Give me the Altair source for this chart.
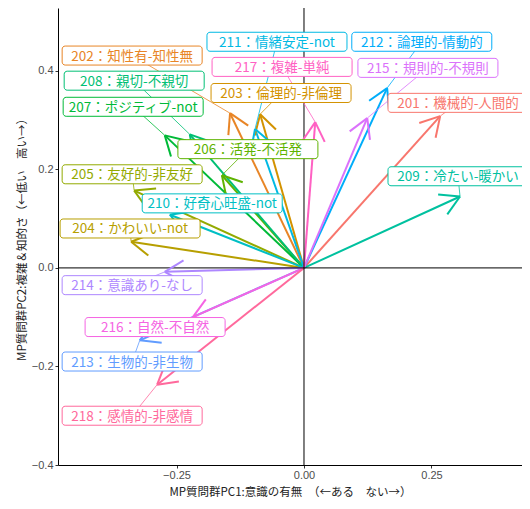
import altair as alt
import numpy as np
import pandas as pd

ids = ["201", "202", "203", "204", "205", "206", "207", "208", "209",
       "210", "211", "212", "213", "214", "215", "216", "217", "218"]
names = ["機械的-人間的", "知性有-知性無", "倫理的-非倫理", "かわいい-not", "友好的-非友好",
         "活発-不活発", "ポジティブ-not", "親切-不親切", "冷たい-暖かい", "好奇心旺盛-not",
         "情緒安定-not", "論理的-情動的", "生物的-非生物", "意識あり-なし", "規則的-不規則",
         "自然-不自然", "複雑-単純", "感情的-非感情"]
pc1 = [0.267, -0.145, -0.086, -0.339, -0.333, -0.161, -0.273, -0.224, 0.306,
       -0.263, -0.096, 0.163, -0.322, -0.273, 0.124, -0.218, 0.022, -0.288]
pc2 = [0.308, 0.314, 0.312, 0.053, 0.157, 0.188, 0.269, 0.271, 0.145,
       0.108, 0.282, 0.365, -0.147, -0.008, 0.304, -0.100, 0.296, -0.237]
# label (repelled) positions
lab_x = [0.302, -0.337, -0.045, -0.341, -0.337, -0.110, -0.335, -0.333, 0.302,
         -0.180, -0.053, 0.231, -0.337, -0.337, 0.243, -0.292, -0.043, -0.337]
lab_y = [0.335, 0.431, 0.355, 0.080, 0.190, 0.241, 0.327, 0.380, 0.186,
         0.131, 0.459, 0.459, -0.190, -0.035, 0.406, -0.120, 0.408, -0.300]
colors = ["#F8766D", "#E88526", "#D39200", "#B79F00", "#93AA00", "#5EB300",
          "#00BA38", "#00BF74", "#00C19F", "#00BFC4", "#00B9E3", "#00ADFA",
          "#619CFF", "#AE87FF", "#DB72FB", "#F564E3", "#FF61C3", "#FF699C"]

x_ticks = [-0.25, 0.0, 0.25]
y_ticks = [-0.4, -0.2, 0.0, 0.2, 0.4]
x_dom = [-0.4824, 0.4275]
y_dom = [-0.4, 0.5275]

W, H = 464, 457
px_x = W / (x_dom[1] - x_dom[0])
px_y = H / (y_dom[1] - y_dom[0])

labels = [f"{i}：{n}" for i, n in zip(ids, names)]
df = pd.DataFrame({"id": ids, "label": labels, "x": pc1, "y": pc2,
                   "lx": lab_x, "ly": lab_y})

# arrowhead barbs (open arrow, 30 degrees), computed in pixel space
Lpx = 22
rows = []
for _, r in df.iterrows():
    a0 = np.arctan2(r["y"] * px_y, r["x"] * px_x)
    for s in (-1, 1):
        a = a0 + np.pi + s * np.pi / 6
        rows.append({"id": r["id"], "x": r["x"], "y": r["y"],
                     "bx": r["x"] + Lpx * np.cos(a) / px_x,
                     "by": r["y"] + Lpx * np.sin(a) / px_y})
barbs = pd.DataFrame(rows)

bw, bh = 140 / px_x, 19 / px_y
df["x1"] = df["lx"] - bw / 2
df["x2"] = df["lx"] + bw / 2
df["y1"] = df["ly"] - bh / 2
df["y2"] = df["ly"] + bh / 2
df["ox"] = 0.0
df["oy"] = 0.0

color = alt.Color("id:N", scale=alt.Scale(domain=ids, range=colors), legend=None)
xs = alt.Scale(domain=x_dom, nice=False, zero=False)
ys = alt.Scale(domain=y_dom, nice=False, zero=False)

base = alt.Chart(df)

vline = alt.Chart(pd.DataFrame({"v": [0.0]})).mark_rule(color="black", strokeWidth=1).encode(
    x=alt.X("v:Q", scale=xs))
hline = alt.Chart(pd.DataFrame({"v": [0.0]})).mark_rule(color="black", strokeWidth=1).encode(
    y=alt.Y("v:Q", scale=ys))

shafts = base.mark_rule(strokeWidth=2).encode(
    x=alt.X("ox:Q", scale=xs, axis=alt.Axis(values=x_ticks, format=".2f",
            title="MP質問群PC1:意識の有無　（←ある　ない→）")),
    y=alt.Y("oy:Q", scale=ys, axis=alt.Axis(values=y_ticks, format=".1f",
            title="MP質問群PC2:複雑＆知的さ（←低い　高い→）")),
    x2="x:Q", y2="y:Q", color=color)

heads = alt.Chart(barbs).mark_rule(strokeWidth=2).encode(
    x=alt.X("x:Q", scale=xs), y=alt.Y("y:Q", scale=ys),
    x2="bx:Q", y2="by:Q", color=color)

conn = base.mark_rule(strokeWidth=0.8).encode(
    x=alt.X("lx:Q", scale=xs), y=alt.Y("ly:Q", scale=ys),
    x2="x:Q", y2="y:Q", color=color)

boxes = base.mark_rect(fill="white", strokeWidth=1, cornerRadius=3).encode(
    x=alt.X("x1:Q", scale=xs), x2="x2:Q",
    y=alt.Y("y1:Q", scale=ys), y2="y2:Q",
    stroke=alt.Stroke("id:N", scale=alt.Scale(domain=ids, range=colors), legend=None))

texts = base.mark_text(fontSize=13.5, font="Noto Sans CJK JP", align="center",
                       baseline="middle", dy=1).encode(
    x=alt.X("lx:Q", scale=xs), y=alt.Y("ly:Q", scale=ys),
    text="label:N", color=color)

chart = alt.layer(shafts, vline, hline, heads, conn, boxes, texts).properties(
    width=W, height=H,
    autosize=alt.AutoSizeParams(type="none"),
    padding={"left": 50, "top": 0, "right": 0, "bottom": 36},
).configure_view(stroke=None).configure_axis(
    grid=False, domainColor="black", domainWidth=1, tickColor="#333333",
    tickSize=3, labelColor="#4D4D4D", labelFontSize=11, labelFont="Liberation Sans",
    titleFont="Noto Sans CJK JP", titleFontSize=11.5, titleFontWeight="normal",
    titleColor="#222222", labelPadding=2,
).configure_axisY(titlePadding=4).configure_axisX(titlePadding=6, labelPadding=1)

chart.save("out.html", embed_options={"renderer": "svg", "actions": False})
